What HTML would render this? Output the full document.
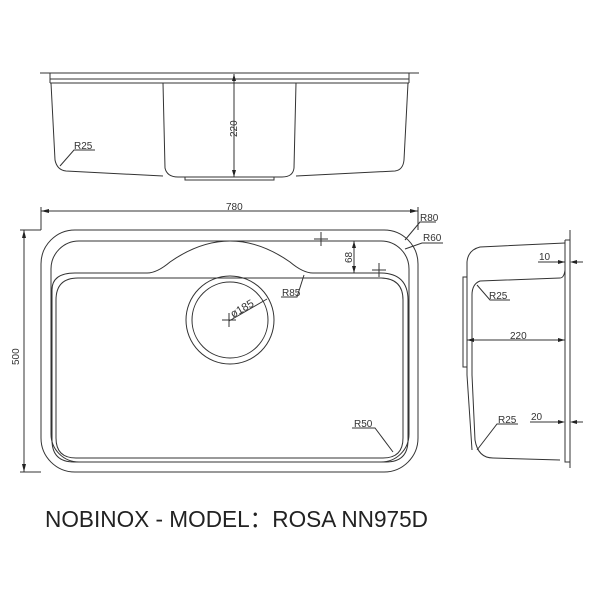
<!DOCTYPE html><html><head><style>body{margin:0;background:#fff}svg{display:block}</style></head><body>
<svg width="600" height="600" viewBox="0 0 600 600" xmlns="http://www.w3.org/2000/svg" font-family="Liberation Sans, sans-serif">
<g fill="none" stroke="#333" stroke-width="1">
<line x1="40" y1="73" x2="419" y2="73"/>
<line x1="50" y1="79" x2="409" y2="79"/>
<line x1="50" y1="83" x2="409" y2="83"/>
<line x1="50" y1="73" x2="50" y2="83"/><line x1="409" y1="73" x2="409" y2="83"/>
<path d="M51 83 L55 160 Q57 170 66 171 L163 176"/>
<path d="M163 83 L165 168 Q167 177 178 177 L282 177 Q293 177 294 168 L296 83"/>
<path d="M296 176 L395 171 Q403 170 404 160 L408 83"/>
<rect x="185" y="177" width="89" height="3"/>
<line x1="234" y1="74" x2="234" y2="177"/>
<path d="M60 166 L74 150 L95 150"/>
<rect x="41" y="230" width="377" height="242" rx="34"/>
<rect x="51" y="241" width="358" height="221" rx="28"/>
<path d="M52 300 L52 290 Q52 273 75 273 L147 273 Q157 273 170 262 Q200 241 230 241 Q260 241 290 262 Q303 273 313 273 L380 273 Q408 273 408 300 L408 440 Q408 462 386 462 L74 462 Q52 462 52 440 Z"/>
<path d="M56 300 Q56 278 78 278 L147 278 L313 278 L380 278 Q403 278 403 300 L403 438 Q403 458 383 458 L76 458 Q56 458 56 438 Z"/>
<circle cx="230" cy="320" r="44"/><circle cx="230" cy="320" r="38"/>
<path d="M222 320 h14 M229 313 v14 M314 239 h14 M321 232 v14 M372 270 h14 M379 263 v14"/>
<line x1="229" y1="321" x2="267" y2="299"/>
<line x1="41" y1="207" x2="41" y2="230"/><line x1="418" y1="207" x2="418" y2="230"/>
<line x1="41" y1="211" x2="418" y2="211"/>
<line x1="20" y1="230" x2="41" y2="230"/><line x1="20" y1="472" x2="41" y2="472"/>
<line x1="24" y1="230" x2="24" y2="472"/>
<line x1="354" y1="241" x2="354" y2="273"/>
<path d="M304 275 L297 297 L281 297"/>
<path d="M352 428 L375 428 L393 452"/>
<path d="M405 240 L420 222 L436 222"/>
<path d="M405 249 L422 243 L443 243"/>
<line x1="570" y1="230" x2="570" y2="468"/>
<path d="M565 240 L565 462 L570 462 M565 240 L570 240"/>
<path d="M565 241 L565 270 Q564 278 560 278 L480 281 Q472 284 472 295 L472 375 L475 440 Q478 458 493 458 L560 460"/>
<path d="M565 243 L480 247 Q468 250 467 262 L467 375 L472 450"/>
<rect x="463" y="277" width="4" height="90"/>
<line x1="467" y1="340" x2="565" y2="340"/>
<path d="M477 285 L490 300 L510 300 M477 450 L497 424 L518 424"/>
<path d="M538 262 L565 262 M572 262 L583 262 M530 422 L560 422 M572 422 L583 422"/>
</g>
<g fill="#222">
<path d="M41 211 l8 -2 v4z M418 211 l-8 -2 v4z M24 230 l-2 8 h4z M24 472 l-2 -8 h4z M234 74 l-2 7 h4z M234 177 l-2 -7 h4z M354 241 l-2 7 h4z M354 273 l-2 -7 h4z M565 262 l-7 -2 v4z M570 262 l7 -2 v4z M565 422 l-7 -2 v4z M570 422 l7 -2 v4z M467 340 l7 -2 v4z M565 340 l-7 -2 v4z"/>
</g>
<g font-size="10" fill="#333">
<text x="226" y="210">780</text>
<text x="74" y="149">R25</text>
<text x="420" y="221">R80</text>
<text x="423" y="241">R60</text>
<text x="282" y="296">R85</text>
<text x="354" y="427">R50</text>
<text x="489" y="299">R25</text>
<text x="498" y="423">R25</text>
<text x="510" y="339">220</text>
<text x="539" y="260">10</text>
<text x="531" y="420">20</text>
<text transform="translate(237,137) rotate(-90)">220</text>
<text transform="translate(352,263) rotate(-90)">68</text>
<text transform="translate(19,365) rotate(-90)">500</text>
<text transform="translate(233,318) rotate(-30)" font-size="11">ø185</text>
</g>
<text x="45" y="527" font-size="23" fill="#222" textLength="383" lengthAdjust="spacingAndGlyphs" font-family="Liberation Sans, Noto Sans CJK SC, sans-serif">NOBINOX - MODEL：ROSA NN975D</text>
</svg>
</body></html>
